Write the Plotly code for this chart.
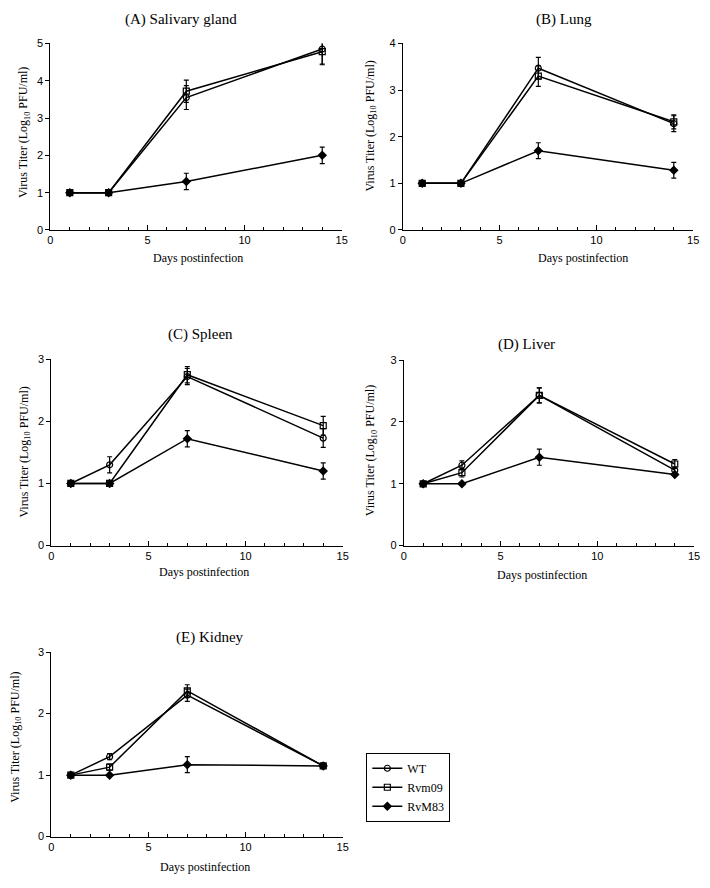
import plotly.graph_objects as go

days = [1, 3, 7, 14]
series_names = ["WT", "Rvm09", "RvM83"]

panel_titles = ["(A) Salivary gland", "(B) Lung", "(C) Spleen", "(D) Liver", "(E) Kidney"]
y_max = [5, 4, 3, 3, 3]

# values per panel: WT, Rvm09, RvM83
wt_vals = [
    [1, 1, 3.55, 4.85],
    [1, 1, 3.47, 2.28],
    [1, 1.3, 2.72, 1.73],
    [1, 1.3, 2.43, 1.22],
    [1, 1.3, 2.30, 1.15],
]
rvm09_vals = [
    [1, 1, 3.72, 4.78],
    [1, 1, 3.30, 2.32],
    [1, 1, 2.75, 1.93],
    [1, 1.18, 2.43, 1.32],
    [1, 1.13, 2.37, 1.15],
]
rvm83_vals = [
    [1, 1, 1.30, 2.00],
    [1, 1, 1.70, 1.28],
    [1, 1, 1.72, 1.20],
    [1, 1, 1.43, 1.15],
    [1, 1, 1.17, 1.15],
]
wt_err = [
    [None, None, 0.32, 0.40],
    [None, None, 0.23, 0.17],
    [None, 0.13, 0.13, 0.15],
    [None, 0.07, 0.12, 0.05],
    [None, 0.05, 0.10, None],
]
rvm09_err = [
    [None, None, 0.30, 0.35],
    [None, None, 0.22, 0.15],
    [None, None, 0.13, 0.15],
    [None, 0.07, 0.12, 0.07],
    [None, 0.05, 0.10, None],
]
rvm83_err = [
    [None, None, 0.22, 0.22],
    [None, None, 0.17, 0.17],
    [None, None, 0.13, 0.13],
    [None, None, 0.13, None],
    [None, None, 0.13, None],
]

W, H = 710, 888


def px(x):
    return x / W


def py(y):
    return 1 - y / H


# plot areas in pixels: (x0, x1, ytop, ybottom)
boxes = [
    (48, 343, 38, 227),
    (405, 699, 38, 227),
    (49, 344, 358, 547),
    (406, 700, 359, 547),
    (49, 344, 655, 842),
]
title_pos = [(180, 14), (568, 14), (200, 333), (530, 343), (210, 640)]
xtitle_pos = [(197, 255), (587, 255), (204, 574), (546, 577), (205, 873)]
ytitle_pos = [(22, 128), (373, 122), (22, 452), (373, 451), (13, 741)]

serif = "Liberation Serif"
sans = "Liberation Sans"

fig = go.Figure()
symbols = ["circle-open", "square-open", "diamond"]
sizes = [6, 6, 6]
all_vals = [wt_vals, rvm09_vals, rvm83_vals]
all_errs = [wt_err, rvm09_err, rvm83_err]

layout_axes = {}
annotations = []
for i in range(5):
    ax = "" if i == 0 else str(i + 1)
    x0, x1, yt, yb = boxes[i]
    for s in range(3):
        fig.add_trace(go.Scatter(
            x=days, y=all_vals[s][i],
            mode="lines+markers",
            name=series_names[s],
            showlegend=(i == 0),
            xaxis="x" + ax, yaxis="y" + ax,
            line=dict(color="black", width=1.5),
            marker=dict(symbol=symbols[s], size=sizes[s], color="black",
                        line=dict(color="black", width=1.2)),
            error_y=dict(type="data", array=all_errs[s][i], color="black",
                         thickness=1.2, width=2.5, visible=True),
        ))
    layout_axes["xaxis" + ax] = dict(
        domain=[px(x0), px(x1)], anchor="y" + ax, range=[0, 15],
        tickvals=[0, 5, 10, 15], ticks="inside", ticklen=5, tickcolor="black",
        minor=dict(dtick=1, tick0=0, ticks="inside", ticklen=3, tickcolor="black"),
        showline=True, linecolor="black", linewidth=1.2, showgrid=False, zeroline=False,
        tickfont=dict(family=sans, size=11, color="black"),
        ticklabeloverflow="allow",
    )
    layout_axes["yaxis" + ax] = dict(
        domain=[py(yb), py(yt)], anchor="x" + ax, range=[0, y_max[i]],
        dtick=1, ticks="outside", ticklen=4, tickcolor="black",
        showline=True, linecolor="black", linewidth=1.2, showgrid=False, zeroline=False,
        tickfont=dict(family=sans, size=11, color="black"),
        ticklabeloverflow="allow",
    )
    tx, ty = title_pos[i]
    annotations.append(dict(text=panel_titles[i], x=px(tx), y=py(ty), xref="paper", yref="paper",
                            showarrow=False, xanchor="center", yanchor="middle",
                            font=dict(family=serif, size=15, color="black")))
    xx, xy = xtitle_pos[i]
    annotations.append(dict(text="Days postinfection", x=px(xx), y=py(xy), xref="paper", yref="paper",
                            showarrow=False, xanchor="center", yanchor="middle",
                            font=dict(family=serif, size=12, color="black")))
    yx, yy = ytitle_pos[i]
    annotations.append(dict(text="Virus Titer (Log<sub>10</sub> PFU/ml)", x=px(yx), y=py(yy),
                            xref="paper", yref="paper", textangle=-90,
                            showarrow=False, xanchor="center", yanchor="middle",
                            font=dict(family=serif, size=12, color="black")))

fig.update_layout(
    width=W, height=H,
    margin=dict(l=0, r=0, t=0, b=0),
    paper_bgcolor="white", plot_bgcolor="white",
    annotations=annotations,
    legend=dict(x=px(368), y=py(757), xanchor="left", yanchor="top",
                bordercolor="black", borderwidth=1, bgcolor="white",
                font=dict(family=serif, size=12, color="black"),
                tracegroupgap=0, itemwidth=30),
    **layout_axes,
)

fig.write_html("out.html",
               config={"displayModeBar": False},
               post_script="document.body.style.margin='0';document.body.style.overflow='hidden';")
